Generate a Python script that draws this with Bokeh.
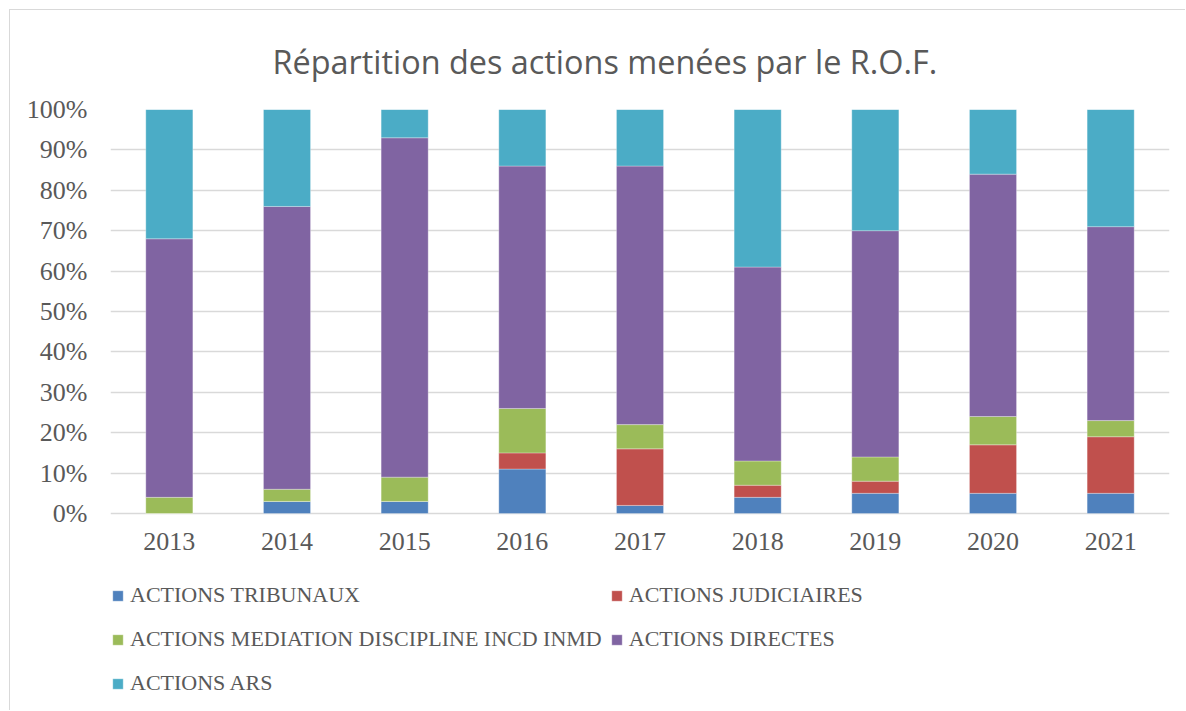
from bokeh.plotting import figure
from bokeh.models import ColumnDataSource, FactorRange, Legend, LegendItem, NumeralTickFormatter, FixedTicker, Title
from bokeh.embed import file_html
from bokeh.resources import INLINE

years = ["2013", "2014", "2015", "2016", "2017", "2018", "2019", "2020", "2021"]
tribunaux = [0, 3, 3, 11, 2, 4, 5, 5, 5]
judiciaires = [0, 0, 0, 4, 14, 3, 3, 12, 14]
mediation = [4, 3, 6, 11, 6, 6, 6, 7, 4]
directes = [64, 70, 84, 60, 64, 48, 56, 60, 48]
ars = [32, 24, 7, 14, 14, 39, 30, 16, 29]

series_names = ["ACTIONS TRIBUNAUX", "ACTIONS JUDICIAIRES",
                "ACTIONS MEDIATION DISCIPLINE INCD INMD", "ACTIONS DIRECTES", "ACTIONS ARS"]
series_vals = [tribunaux, judiciaires, mediation, directes, ars]
colors = ["#4F81BD", "#C0504D", "#9BBB59", "#8064A2", "#4BACC6"]
keys = ["trib", "jud", "med", "dir", "ars"]

data = {"years": years}
for k, v in zip(keys, series_vals):
    data[k] = [x / 100 for x in v]
src = ColumnDataSource(data)

FONT = "Liberation Serif"
TXT = "#595959"

# layout geometry (pixels): the frame runs from the 100% line down to the figure bottom,
# the 0% baseline sits 198 px above the bottom, 404 px per 100 %
FRAME_PX = 404.0
BELOW_PX = 198.0
y_start = -BELOW_PX / FRAME_PX

p = figure(x_range=FactorRange(*years, range_padding=0), y_range=(y_start, 1),
           width=1176, height=701, output_backend="svg", toolbar_location=None,
           min_border_left=100, min_border_right=17, min_border_top=99, min_border_bottom=0)
p.styles = {"border-left": "1px solid #d9d9d9", "border-top": "1px solid #d9d9d9",
            "margin-left": "9px", "margin-top": "9px"}
p.outline_line_color = None

renderers = p.vbar_stack(keys, x="years", width=0.4, source=src, color=colors,
                         line_color="white", line_width=0.6, line_alpha=0.5)

t = Title(text="Répartition des actions menées par le R.O.F.", align="left", offset=162,
          text_font="Open Sans", text_font_size="32.4px", text_font_style="normal",
          text_color=TXT, standoff=53)
p.add_layout(t, "above")

p.yaxis.ticker = FixedTicker(ticks=[i / 10 for i in range(11)])
p.yaxis.formatter = NumeralTickFormatter(format="0%")
p.xaxis.fixed_location = 0
for ax in (p.xaxis[0], p.yaxis[0]):
    ax.axis_line_color = None
    ax.major_tick_line_color = None
    ax.minor_tick_line_color = None
    ax.major_label_text_font = FONT
    ax.major_label_text_font_size = "26px"
    ax.major_label_text_color = TXT
p.yaxis.major_label_standoff = 17
p.xaxis.major_label_standoff = 13
p.xgrid.grid_line_color = None
p.ygrid.grid_line_color = "#D9D9D9"
p.ygrid.grid_line_width = 1.5

# column-major fill: col1 = trib, med, ars ; col2 = jud, dir
order = [0, 2, 4, 1, 3]
items = [LegendItem(label=series_names[i], renderers=[renderers[i]]) for i in order]
legend = Legend(items=items, ncols=2, location=(1, 10), margin=0, padding=0,
                label_text_font=FONT, label_text_font_size="22px", label_text_color=TXT,
                glyph_width=13, glyph_height=13, spacing=8, label_standoff=6, label_height=36,
                border_line_color=None, background_fill_alpha=0)
p.add_layout(legend, "center")

open("out.html", "w").write(file_html(p, INLINE))
